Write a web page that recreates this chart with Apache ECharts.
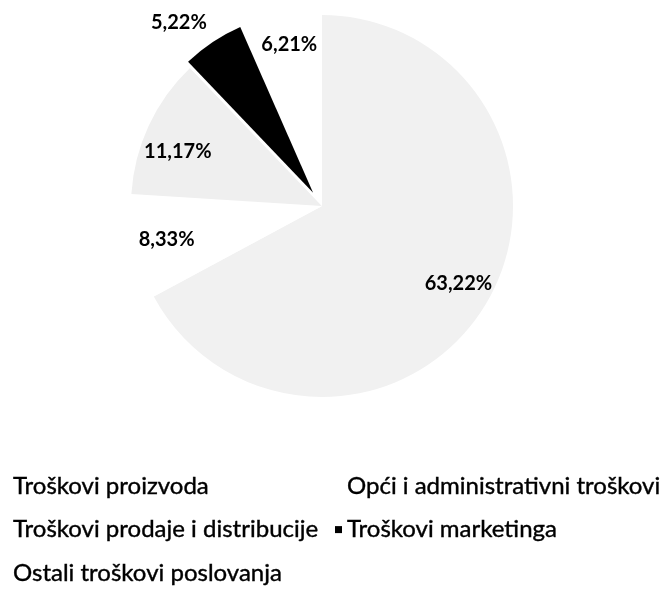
<!DOCTYPE html>
<html><head><meta charset="utf-8">
<script src="https://cdn.jsdelivr.net/npm/echarts@6/dist/echarts.min.js"></script>
<style>html,body{margin:0;padding:0;background:#fff}#c{width:662px;height:589px}</style>
</head><body><div id="c"></div>
<script>
const categories = ['Troškovi proizvoda', 'Opći i administrativni troškovi', 'Troškovi prodaje i distribucije', 'Troškovi marketinga', 'Ostali troškovi poslovanja'];
const values = [63.22, 8.33, 11.17, 5.22, 6.21];
const colors = ['#f1f1f1', '#ffffff', '#efefef', '#000000', '#ffffff'];
const legendLeftColumn = [0, 2, 4];
const legendRightColumn = [1, 3];
const highlighted = 3;

const fmt = v => v.toFixed(2).replace('.', ',') + '%';
const chart = echarts.init(document.getElementById('c'), null, { renderer: 'canvas' });

// main pie: every slice; the exploded one is drawn white here and black in the wedge series
const baseData = categories.map((n, i) => ({ name: n, value: values[i], itemStyle: { color: i === highlighted ? '#ffffff' : colors[i] } }));
// exploded wedge series: only the highlighted slice is visible
const wedgeData = categories.map((n, i) => ({
  name: n, value: values[i], selected: i === highlighted,
  itemStyle: { color: i === highlighted ? colors[i] : 'rgba(0,0,0,0)' }
}));
const labelData = categories.map((n, i) => {
  const d = { name: n, value: values[i] };
  if (i === highlighted) {
    d.label = { position: 'outside', distanceToLabelLine: -7 };
    d.labelLine = { show: false, length: 30, length2: 0 };
  }
  return d;
});
const labelNudge = { 2: 13, 4: -6, 0: -4 };

const legendItems = idx => idx.map(i => ({ name: categories[i], itemStyle: { color: i === highlighted ? '#000' : '#fff' } }));
const legendCommon = {
  orient: 'vertical', padding: 0, itemWidth: 7, itemHeight: 7, icon: 'rect', itemGap: 19,
  selectedMode: false,
  textStyle: { fontFamily: 'Lato', fontSize: 24, lineHeight: 24, color: '#000', textBorderColor: '#000', textBorderWidth: 0.4 }
};

chart.setOption({
  animation: false,
  legend: [
    Object.assign({}, legendCommon, { left: 1, top: 474, data: legendItems(legendLeftColumn) }),
    Object.assign({}, legendCommon, { left: 335, top: 474, data: legendItems(legendRightColumn) })
  ],
  series: [
    {
      type: 'pie', center: [322, 206], radius: 191, startAngle: 90, clockwise: true,
      selectedMode: false, silent: true,
      label: { show: false }, labelLine: { show: false },
      itemStyle: { borderWidth: 0 },
      emphasis: { disabled: true },
      data: baseData
    },
    {
      type: 'pie', center: [322, 206], radius: 181, startAngle: 90, clockwise: true,
      selectedMode: 'single', selectedOffset: 16, silent: true,
      label: { show: false }, labelLine: { show: false },
      itemStyle: { borderWidth: 0 },
      emphasis: { disabled: true },
      data: wedgeData
    },
    {
      type: 'pie', center: [322, 206], radius: [122, 190], startAngle: 90, clockwise: true,
      silent: true, avoidLabelOverlap: false,
      itemStyle: { color: 'rgba(0,0,0,0)', borderWidth: 0 },
      label: { show: true, position: 'inside', formatter: p => fmt(p.value), fontFamily: 'Lato', fontWeight: 'bold', fontSize: 20, color: '#000' },
      labelLine: { show: false },
      labelLayout: p => ({ dy: labelNudge[p.dataIndex] || 0 }),
      emphasis: { disabled: true },
      data: labelData
    }
  ]
});
</script></body></html>
